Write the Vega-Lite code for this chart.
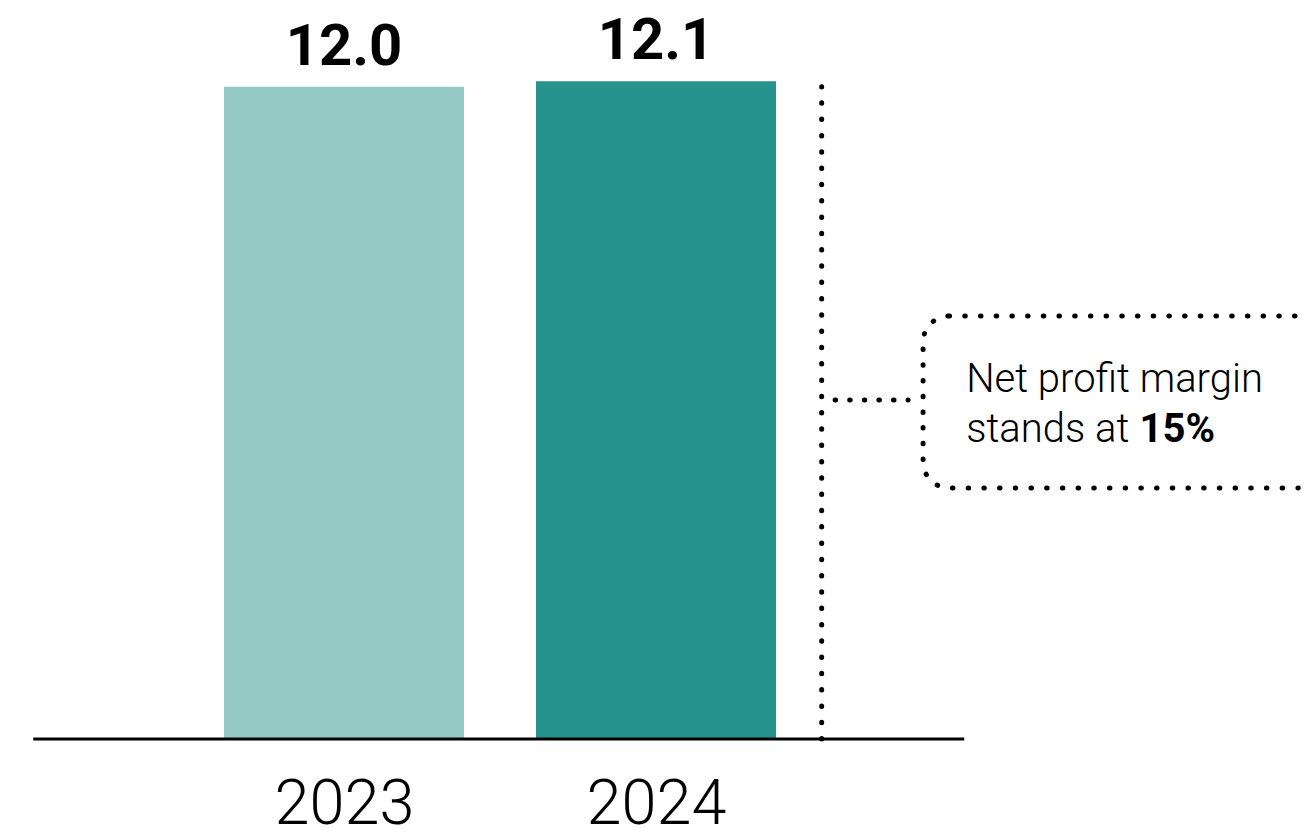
{
  "$schema": "https://vega.github.io/schema/vega-lite/v6.json",
  "width": 1307,
  "height": 739,
  "autosize": {"type": "none"},
  "padding": {"left": 0, "top": 0, "right": 0, "bottom": 100},
  "background": "white",
  "config": {"view": {"stroke": null}},
  "datasets": {
    "bars": [
      {"year": "2023", "pos": 1, "start": 0.6154, "end": 1.3846, "value": 12.0, "label": "12.0"},
      {"year": "2024", "pos": 2, "start": 1.6154, "end": 2.3846, "value": 12.1, "label": "12.1"}
    ],
    "baseline": [{"x0": 0.004, "x1": 2.988, "y": 0}],
    "divider": [{"x": 2.531, "y0": 0, "y1": 12.0}],
    "connector": [{"x0": 2.574, "x1": 2.808, "y": 6.237}],
    "box": [{"x0": 2.856, "x1": 4.14, "y0": 7.782, "y1": 4.618}],
    "noteLight": [
      {"text": "Net profit margin", "x": 2.994, "y": 6.384},
      {"text": "stands at", "x": 2.994, "y": 5.464}
    ],
    "noteBold": [
      {"text": "15%", "x": 3.55, "y": 5.464}
    ]
  },
  "layer": [
    {
      "data": {"name": "bars"},
      "mark": {"type": "rect"},
      "encoding": {
        "x": {
          "field": "start", "type": "quantitative",
          "scale": {"domain": [-0.10256, 4.0865], "nice": false, "zero": false},
          "axis": {
            "values": [1, 2],
            "labelExpr": "datum.value == 1 ? '2023' : '2024'",
            "ticks": false, "domain": false, "grid": false, "title": null,
            "labelFont": "Roboto", "labelFontWeight": 300, "labelFontSize": 63,
            "labelColor": "#000000", "labelBaseline": "alphabetic",
            "labelPadding": 84, "labelFlush": false, "labelOverlap": false
          }
        },
        "x2": {"field": "end"},
        "y": {
          "field": "value", "type": "quantitative",
          "scale": {"domain": [0, 13.595], "nice": false, "zero": false},
          "axis": null
        },
        "y2": {"datum": 0},
        "color": {
          "field": "year", "type": "nominal",
          "scale": {"domain": ["2023", "2024"], "range": ["#95c9c5", "#26938c"]},
          "legend": null
        }
      }
    },
    {
      "data": {"name": "bars"},
      "mark": {"type": "text", "font": "Roboto", "fontWeight": "bold", "fontSize": 58, "baseline": "alphabetic", "align": "center", "dy": -22, "color": "#000000"},
      "encoding": {
        "x": {"field": "pos", "type": "quantitative"},
        "y": {"field": "value", "type": "quantitative"},
        "text": {"field": "label"}
      }
    },
    {
      "data": {"name": "baseline"},
      "mark": {"type": "rule", "color": "#000000", "strokeWidth": 3},
      "encoding": {
        "x": {"field": "x0", "type": "quantitative"},
        "x2": {"field": "x1"},
        "y": {"field": "y", "type": "quantitative"}
      }
    },
    {
      "data": {"name": "divider"},
      "mark": {"type": "rule", "color": "#000000", "strokeWidth": 5, "strokeCap": "round", "strokeDash": [0.5, 15.8]},
      "encoding": {
        "x": {"field": "x", "type": "quantitative"},
        "y": {"field": "y0", "type": "quantitative"},
        "y2": {"field": "y1"}
      }
    },
    {
      "data": {"name": "connector"},
      "mark": {"type": "rule", "color": "#000000", "strokeWidth": 5, "strokeCap": "round", "strokeDash": [0.5, 14.1]},
      "encoding": {
        "x": {"field": "x0", "type": "quantitative"},
        "x2": {"field": "x1"},
        "y": {"field": "y", "type": "quantitative"}
      }
    },
    {
      "data": {"name": "box"},
      "mark": {"type": "rect", "fill": null, "fillOpacity": 0, "stroke": "#000000", "strokeWidth": 5, "strokeCap": "round", "strokeDash": [0.5, 15.2], "cornerRadius": 26},
      "encoding": {
        "x": {"field": "x0", "type": "quantitative"},
        "x2": {"field": "x1"},
        "y": {"field": "y0", "type": "quantitative"},
        "y2": {"field": "y1"}
      }
    },
    {
      "data": {"name": "noteLight"},
      "mark": {"type": "text", "font": "Roboto", "fontWeight": 300, "fontSize": 40, "baseline": "alphabetic", "align": "left", "color": "#000000"},
      "encoding": {
        "x": {"field": "x", "type": "quantitative"},
        "y": {"field": "y", "type": "quantitative"},
        "text": {"field": "text"}
      }
    },
    {
      "data": {"name": "noteBold"},
      "mark": {"type": "text", "font": "Roboto", "fontWeight": "bold", "fontSize": 40, "baseline": "alphabetic", "align": "left", "color": "#000000"},
      "encoding": {
        "x": {"field": "x", "type": "quantitative"},
        "y": {"field": "y", "type": "quantitative"},
        "text": {"field": "text"}
      }
    }
  ]
}
